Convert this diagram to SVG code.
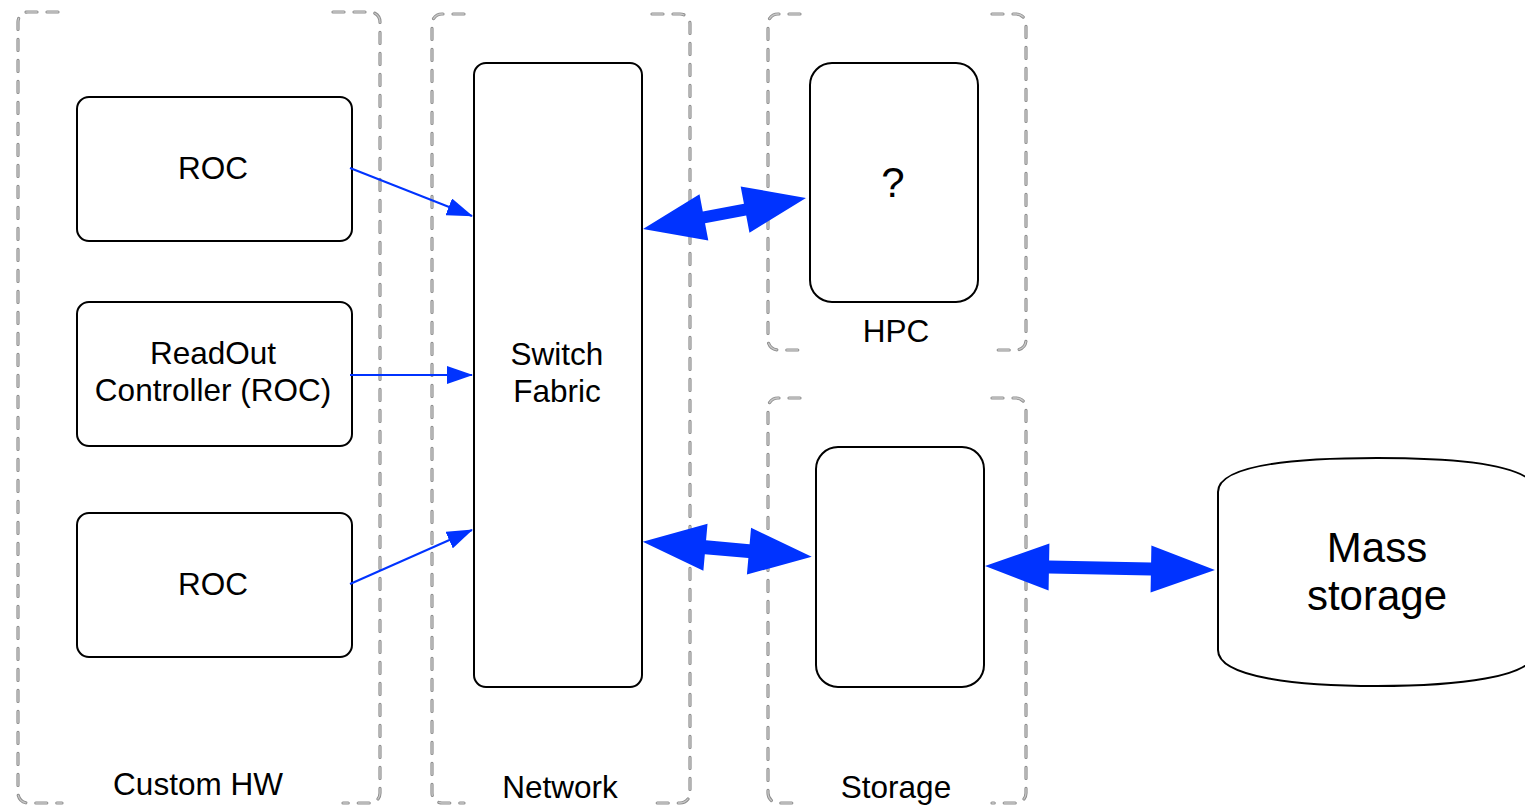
<svg xmlns="http://www.w3.org/2000/svg" xmlns:xlink="http://www.w3.org/1999/xlink" width="1525" height="805" viewBox="0 0 1525 805">
  <style>
    .zone-out { fill: none; stroke: #8e8e8e; stroke-width: 3.2; stroke-dasharray: 11 10; stroke-linecap: round; }
    .zone-in { fill: none; stroke: #c8c8c8; stroke-width: 1.3; stroke-dasharray: 11 10; stroke-linecap: round; }
    .box { fill: #ffffff; stroke: #000000; stroke-width: 2; }
    .lbl { font-family: "Liberation Sans", Arial, Helvetica, sans-serif; font-size: 31.5px; fill: #000000; text-anchor: middle; }
    .big { font-size: 42px; }
    .thin { fill: none; stroke: #0033ff; stroke-width: 2; marker-end: url(#head); }
    .flex { fill: #0033ff; stroke: none; }
  </style>
  <defs>
    <marker id="head" viewBox="0 0 26 18" markerUnits="userSpaceOnUse" markerWidth="26" markerHeight="18" refX="25" refY="9" orient="auto">
      <path d="M0,0 L26,9 L0,18 Z" fill="#0033ff"/>
    </marker>
    <!-- outline sides of the dashed zones -->
    <path id="hw-l" d="M58,12 H28 A10,10 0 0 0 18,22 V793 A10,10 0 0 0 28,803 H62"/>
    <path id="hw-r" d="M333,12 H370 A10,10 0 0 1 380,22 V793 A10,10 0 0 1 370,803 H343"/>
    <path id="net-l" d="M464,14 H442 A10,10 0 0 0 432,24 V793 A10,10 0 0 0 442,803 H464"/>
    <path id="net-r" d="M652,14 H680 A10,10 0 0 1 690,24 V793 A10,10 0 0 1 680,803 H652"/>
    <path id="hpc-l" d="M800,14 H778 A10,10 0 0 0 768,24 V340 A10,10 0 0 0 778,350 H800"/>
    <path id="hpc-r" d="M992,14 H1016 A10,10 0 0 1 1026,24 V340 A10,10 0 0 1 1016,350 H992"/>
    <path id="sto-l" d="M800,398 H778 A10,10 0 0 0 768,408 V793 A10,10 0 0 0 778,803 H800"/>
    <path id="sto-r" d="M992,398 H1016 A10,10 0 0 1 1026,408 V793 A10,10 0 0 1 1016,803 H992"/>
  </defs>

  <rect width="1525" height="805" fill="#ffffff"/>

  <!-- zones -->
  <g id="zone-custom-hw">
    <use href="#hw-l" class="zone-out"/><use href="#hw-l" class="zone-in"/>
    <use href="#hw-r" class="zone-out"/><use href="#hw-r" class="zone-in"/>
    <text class="lbl" x="198" y="795">Custom HW</text>
  </g>
  <g id="zone-network">
    <use href="#net-l" class="zone-out"/><use href="#net-l" class="zone-in"/>
    <use href="#net-r" class="zone-out"/><use href="#net-r" class="zone-in"/>
    <text class="lbl" x="560" y="798">Network</text>
  </g>
  <g id="zone-hpc">
    <use href="#hpc-l" class="zone-out"/><use href="#hpc-l" class="zone-in"/>
    <use href="#hpc-r" class="zone-out"/><use href="#hpc-r" class="zone-in"/>
    <text class="lbl" x="896" y="342">HPC</text>
  </g>
  <g id="zone-storage">
    <use href="#sto-l" class="zone-out"/><use href="#sto-l" class="zone-in"/>
    <use href="#sto-r" class="zone-out"/><use href="#sto-r" class="zone-in"/>
    <text class="lbl" x="896" y="798">Storage</text>
  </g>

  <!-- nodes -->
  <g id="roc-top">
    <rect class="box" x="77" y="97" width="275" height="144" rx="12"/>
    <text class="lbl" x="213" y="179">ROC</text>
  </g>
  <g id="roc-main">
    <rect class="box" x="77" y="302" width="275" height="144" rx="12"/>
    <text class="lbl" x="213" y="364">ReadOut</text>
    <text class="lbl" x="213" y="401">Controller (ROC)</text>
  </g>
  <g id="roc-bottom">
    <rect class="box" x="77" y="513" width="275" height="144" rx="12"/>
    <text class="lbl" x="213" y="595">ROC</text>
  </g>
  <g id="switch-fabric">
    <rect class="box" x="474" y="63" width="168" height="624" rx="12"/>
    <text class="lbl" x="557" y="365">Switch</text>
    <text class="lbl" x="557" y="402">Fabric</text>
  </g>
  <g id="hpc-node">
    <rect class="box" x="810" y="63" width="168" height="239" rx="22"/>
    <text class="lbl big" x="893" y="197">?</text>
  </g>
  <g id="storage-node">
    <rect class="box" x="816" y="447" width="168" height="240" rx="22"/>
  </g>
  <g id="mass-storage">
    <path class="box" d="M1218,492 C1218,464 1300,458 1377,458 C1454,458 1536,464 1536,492 L1536,650 C1536,678 1454,686 1377,686 C1300,686 1218,678 1218,650 Z"/>
    <text class="lbl big" x="1377" y="562">Mass</text>
    <text class="lbl big" x="1377" y="610">storage</text>
  </g>

  <!-- connectors -->
  <g id="connectors">
    <path class="thin" d="M350,168 L472,216"/>
    <path class="thin" d="M350,375 L472,375"/>
    <path class="thin" d="M350,584 L472,530"/>
    <polygon class="flex" transform="translate(643,229) rotate(-10.77)" points="0,0 62,-23.5 62,-6 103.9,-6 103.9,-23.5 165.9,0 103.9,23.5 103.9,6 62,6 62,23.5"/>
    <polygon class="flex" transform="translate(642.7,541.7) rotate(5.07)" points="0,0 63,-23.5 63,-7 106.7,-7 106.7,-23.5 169.7,0 106.7,23.5 106.7,7 63,7 63,23.5"/>
    <polygon class="flex" transform="translate(985,566) rotate(1)" points="0,0 64,-23.5 64,-6.5 166,-6.5 166,-23.5 230,0 166,23.5 166,6.5 64,6.5 64,23.5"/>
  </g>
</svg>
